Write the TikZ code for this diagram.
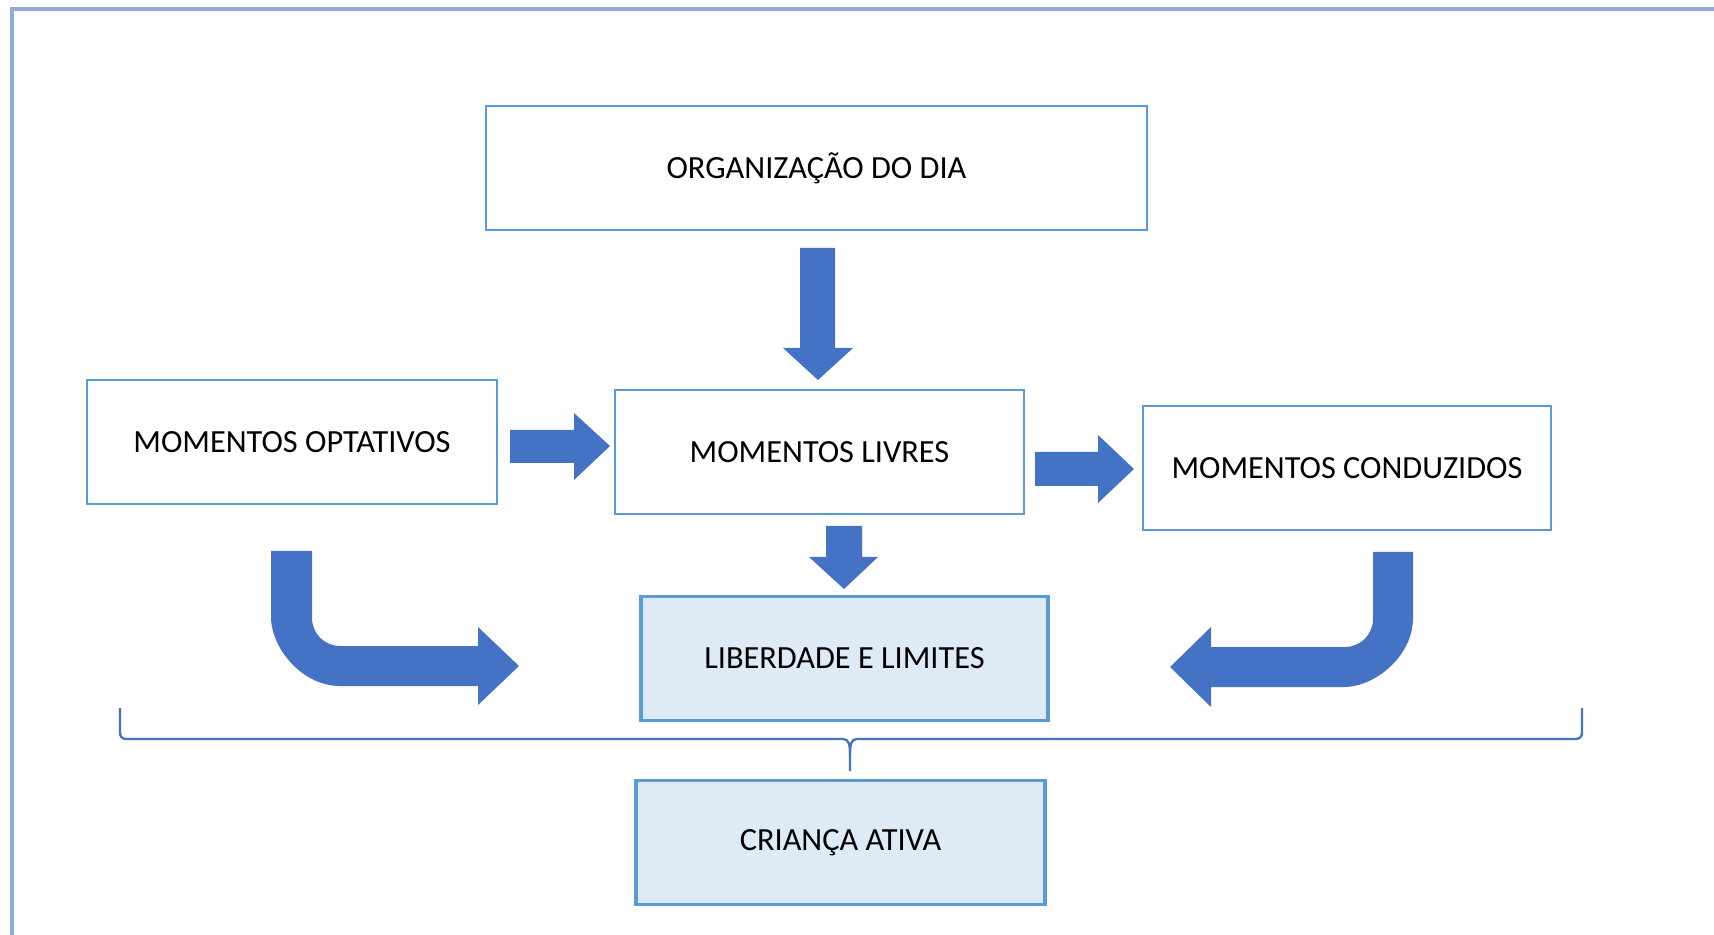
\documentclass[tikz,border=0pt]{standalone}
\usepackage{fontspec}
\setmainfont{Carlito}
\usetikzlibrary{positioning}
\definecolor{azulseta}{HTML}{4472C4}
\definecolor{azulborda}{HTML}{5B9BD5}
\definecolor{azulclaro}{HTML}{DEEBF7}
\definecolor{azulmoldura}{HTML}{8EAADB}

\begin{document}
\begin{tikzpicture}[x=0.02cm, y=-0.02cm,
  caixa/.style={draw=azulborda, line width=1.2pt, fill=white, inner sep=0pt,
    minimum height=2.48cm, font=\fontsize{18.4}{22}\selectfont},
  caixacheia/.style={caixa, fill=azulclaro, line width=1.8pt},
  seta/.style={fill=azulseta, draw=none},
  chave/.style={draw=azulseta, line width=1.3pt}]
\useasboundingbox (0,0) rectangle (1714,935);
\draw[azulmoldura, line width=2pt] (12,935) -- (12,9) -- (1714,9);

\node[caixa, minimum width=13.22cm] (organizacao) at (816.5,168) {ORGANIZAÇÃO DO DIA};
\node[caixa, minimum width=8.2cm] (optativos) at (292,442) {MOMENTOS OPTATIVOS};
\node[caixa, minimum width=8.18cm] (livres) at (819.5,452) {MOMENTOS LIVRES};
\node[caixa, minimum width=8.16cm] (conduzidos) at (1347,468) {MOMENTOS CONDUZIDOS};
\node[caixacheia, minimum width=8.14cm] (liberdade) at (844.5,658.5) {LIBERDADE E LIMITES};
\node[caixacheia, minimum width=8.18cm] (crianca) at (840.5,842.5) {CRIANÇA ATIVA};

% setas retas
\fill[seta] (800,248) -- (835,248) -- (835,348) -- (853,348) -- (818,380) -- (783,348) -- (800,348) -- cycle;
\fill[seta] (510,430) -- (574,430) -- (574,413) -- (610,446) -- (574,480) -- (574,463) -- (510,463) -- cycle;
\fill[seta] (1035,452) -- (1098,452) -- (1098,435) -- (1134,469) -- (1098,503) -- (1098,486) -- (1035,486) -- cycle;
\fill[seta] (826,526) -- (862,526) -- (862,557) -- (878,557) -- (844,589) -- (809,557) -- (826,557) -- cycle;

% setas curvas
\fill[seta] (271,551) -- (312,551) -- (312,618) .. controls (312,633.5) and (324.5,646) .. (340,646)
  -- (478,646) -- (478,627) -- (519,666) -- (478,705) -- (478,686) -- (340,686)
  .. controls (301.9,686) and (271,647.9) .. (271,617) -- cycle;
\fill[seta] (1373,552) -- (1413,552) -- (1413,618) .. controls (1413,656.1) and (1374.9,687) .. (1344,687)
  -- (1211,687) -- (1211,707) -- (1170,667) -- (1211,627) -- (1211,647) -- (1345,647)
  .. controls (1360.5,647) and (1373,634.5) .. (1373,619) -- cycle;

% chave
\draw[chave] (120,708) -- (120,732) .. controls (120,737) and (122,739) .. (127,739) -- (843,739)
  .. controls (849,739) and (850,745) .. (850,755) -- (850,771);
\draw[chave] (850,755) .. controls (850,745) and (851,739) .. (857,739) -- (1575,739)
  .. controls (1580,739) and (1582,737) .. (1582,732) -- (1582,708);
\end{tikzpicture}
\end{document}
